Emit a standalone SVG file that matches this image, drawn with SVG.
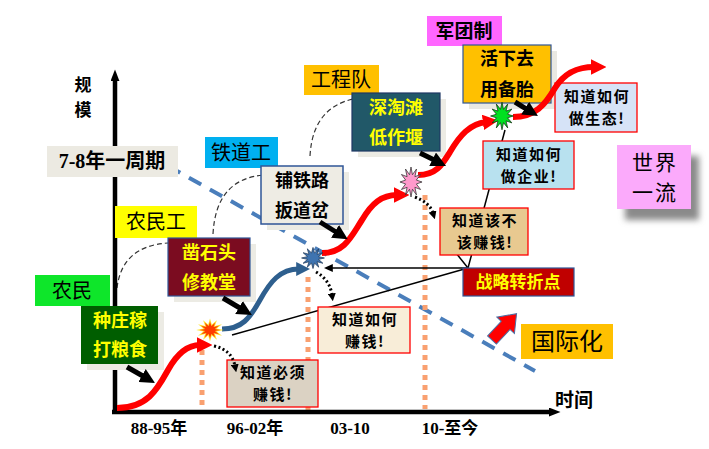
<svg xmlns="http://www.w3.org/2000/svg" width="709" height="449" viewBox="0 0 709 449">
<defs>
<style>
.t{font-family:"Noto Sans CJK SC","Noto Sans",sans-serif;text-anchor:middle}
.b{font-weight:bold}
.n{font-size:15px;letter-spacing:1.5px}
.s{font-family:"Liberation Serif","Noto Sans CJK SC",serif;font-weight:bold;text-anchor:middle}
.y{fill:#ffff00}
.tip{stroke:#ff0000;stroke-width:1.3}
.sh{fill:#ecebe4}
.dot{stroke:#f9a070;stroke-width:5;stroke-dasharray:5 5;fill:none}
.thin{stroke:#000;stroke-width:1.5;fill:none}
.arc{stroke:#333;stroke-width:1.2;stroke-dasharray:5 3;fill:none}
.red{stroke:#ff0000;stroke-width:6;fill:none;marker-end:url(#mr)}
.thick{stroke:#000;stroke-width:5;fill:none;marker-end:url(#mk)}
.dart{stroke:#000;stroke-width:3;stroke-dasharray:2 2.5;fill:none;marker-end:url(#md)}
</style>
<marker id="mr" viewBox="0 0 10 10" refX="2" refY="5" markerWidth="2.6" markerHeight="2.6" orient="auto"><path d="M0,0 L10,5 L0,10z" fill="#ff0000"/></marker>
<marker id="mb" viewBox="0 0 10 10" refX="2" refY="5" markerWidth="2.8" markerHeight="2.8" orient="auto"><path d="M0,0 L10,5 L0,10z" fill="#2e5f8e"/></marker>
<marker id="mk" viewBox="0 0 10 10" refX="2" refY="5" markerWidth="3" markerHeight="3" orient="auto"><path d="M0,0 L10,5 L0,10z" fill="#000"/></marker>
<marker id="ma" viewBox="0 0 10 10" refX="1" refY="5" markerWidth="2.6" markerHeight="2" orient="auto" preserveAspectRatio="none"><path d="M0,0 L10,5 L0,10z" fill="#000"/></marker>
<marker id="md" viewBox="0 0 10 10" refX="2" refY="5" markerUnits="userSpaceOnUse" markerWidth="8" markerHeight="8" orient="auto"><path d="M0,0 L10,5 L0,10z" fill="#000"/></marker>
<marker id="mt" viewBox="0 0 10 10" refX="2" refY="5" markerUnits="userSpaceOnUse" markerWidth="9" markerHeight="8" orient="auto" preserveAspectRatio="none"><path d="M0,0 L10,5 L0,10z" fill="#000"/></marker>
<polygon id="star" points="12,0 5.8,1.55 10.39,6 4.24,4.24 6,10.39 1.55,5.8 0,12 -1.55,5.8 -6,10.39 -4.24,4.24 -10.39,6 -5.8,1.55 -12,0 -5.8,-1.55 -10.39,-6 -4.24,-4.24 -6,-10.39 -1.55,-5.8 0,-12 1.55,-5.8 6,-10.39 4.24,-4.24 10.39,-6 5.8,-1.55"/>
<filter id="blur" x="-30%" y="-30%" width="160%" height="160%"><feGaussianBlur stdDeviation="3"/></filter>
</defs>
<rect width="709" height="449" fill="#fff"/>

<g id="connectors">
  <line x1="168" y1="166" x2="535" y2="371" stroke="#4a7ebb" stroke-width="4" stroke-dasharray="14 10"/>
  <line class="dot" x1="202" y1="350" x2="202" y2="406"/>
  <line class="dot" x1="308" y1="277" x2="308" y2="412"/>
  <line class="dot" x1="425" y1="195" x2="425" y2="409"/>
  <line class="thin" x1="232" y1="335" x2="468" y2="268"/>
  <line class="thin" x1="468" y1="268" x2="331" y2="268" marker-end="url(#mt)"/>
  <line class="thin" x1="468" y1="268" x2="456" y2="253"/>
  <line class="thin" x1="468" y1="268" x2="505" y2="130"/>
  <path class="arc" d="M117,288 Q122,246 168,243"/>
  <path class="arc" d="M213,234 Q216,178 265,175"/>
  <path class="arc" d="M310,156 Q313,100 368,97"/>
</g>

<g id="axes">
  <line x1="115" y1="414" x2="115" y2="80" stroke="#000" stroke-width="4.5" marker-end="url(#ma)"/>
  <line x1="112" y1="412" x2="550" y2="412" stroke="#000" stroke-width="4.5" marker-end="url(#ma)"/>
  <text class="t b" x="83" y="90.5" font-size="17">规<tspan x="83" dy="25">模</tspan></text>
  <text class="t b" x="574" y="407" font-size="19">时间</text>
  <text class="s" x="159" y="434" font-size="17">88-95年</text>
  <text class="s" x="255" y="434" font-size="17">96-02年</text>
  <text class="s" x="350" y="434" font-size="17">03-10</text>
  <text class="s" x="450" y="434" font-size="17">10-至今</text>
</g>

<g id="cycle">
  <rect x="47" y="146" width="131" height="31" fill="#eceae2"/>
  <text class="s" x="112" y="168" font-size="20">7-8年一周期</text>
</g>

<g id="nongmin">
  <rect x="35" y="275" width="75" height="31" fill="#0ee62a"/>
  <text class="t" x="72" y="298" font-size="20">农民</text>
</g>
<g id="zhongzhuangjia">
  <rect class="sh" x="87" y="312" width="77" height="58"/>
  <rect x="81" y="306" width="77" height="58" fill="#005e00"/>
  <text class="t b y" x="120" y="327" font-size="18">种庄稼<tspan x="120" dy="29">打粮食</tspan></text>
</g>

<g id="nongmingong">
  <rect x="115" y="206" width="82" height="32" fill="#ffff00"/>
  <text class="t" x="156" y="229" font-size="20">农民工</text>
</g>
<g id="zaoshitou">
  <rect class="sh" x="174" y="244" width="82" height="58"/>
  <rect x="168" y="238" width="82" height="58" fill="#7b0c20" stroke="#2f5597" stroke-width="1.2"/>
  <text class="t b y" x="209" y="259" font-size="18">凿石头<tspan x="209" dy="30">修教堂</tspan></text>
</g>

<g id="tiedaogong">
  <rect x="205" y="137" width="73" height="31" fill="#00b0f0"/>
  <text class="t" x="241" y="160" font-size="20">铁道工</text>
</g>
<g id="putielu">
  <rect class="sh" x="267" y="172" width="82" height="58"/>
  <rect x="261" y="166" width="82" height="58" fill="#eeece4" stroke="#2f5597" stroke-width="1.5"/>
  <text class="t b" x="302" y="187" font-size="18">铺铁路<tspan x="302" dy="30">扳道岔</tspan></text>
</g>

<g id="gongchengdui">
  <rect x="304" y="65" width="75" height="30" fill="#ffc000"/>
  <text class="t" x="341" y="87" font-size="20">工程队</text>
</g>
<g id="shentaotan">
  <rect class="sh" x="358" y="99" width="88" height="58"/>
  <rect x="352" y="93" width="88" height="58" fill="#215868" stroke="#1f3864" stroke-width="1.2"/>
  <text class="t b y" x="396" y="114" font-size="18">深淘滩<tspan x="396" dy="30">低作堰</tspan></text>
</g>

<g id="juntuanzhi">
  <rect x="427" y="16" width="75" height="30" fill="#ff66ff"/>
  <text class="t b" x="464" y="38" font-size="19">军团制</text>
</g>
<g id="huoxiaqu">
  <rect x="469" y="51" width="88" height="58" fill="#e9e8e2"/>
  <rect x="463" y="45" width="88" height="58" fill="#ffc000" stroke="#2f5597" stroke-width="1.2"/>
  <text class="t b" x="507" y="65" font-size="18">活下去<tspan x="507" dy="31">用备胎</tspan></text>
</g>

<g id="bixuzhuanqian">
  <rect class="tip" x="227" y="360" width="91" height="47" fill="#dbd2c3"/>
  <text class="t b n" x="273" y="378">知道必须<tspan x="273" dy="22">赚钱!</tspan></text>
</g>
<g id="ruhezhuanqian">
  <rect class="tip" x="318" y="307" width="92" height="46" fill="#f8edd8"/>
  <text class="t b n" x="365" y="325">知道如何<tspan x="365" dy="22">赚钱!</tspan></text>
</g>
<g id="gaibugai">
  <rect class="tip" x="440" y="208" width="88" height="47" fill="#e8c990"/>
  <text class="t b n" x="485" y="226">知道该不<tspan x="485" dy="22">该赚钱!</tspan></text>
</g>
<g id="zuoqiye">
  <rect class="tip" x="483" y="141" width="91" height="48" fill="#b8e1ef"/>
  <text class="t b n" x="529" y="160">知道如何<tspan x="529" dy="22">做企业!</tspan></text>
</g>
<g id="zuoshengtai">
  <rect class="tip" x="555" y="83" width="82" height="49" fill="#d6e3f7"/>
  <text class="t b n" x="597" y="102">知道如何<tspan x="597" dy="22">做生态!</tspan></text>
</g>
<g id="zhuanzhedian">
  <rect x="463" y="268" width="111" height="28" fill="#c00000" stroke="#2f5597" stroke-width="1.2"/>
  <text class="t b y" x="518" y="288" font-size="17">战略转折点</text>
</g>
<g id="shijieyiliu">
  <rect x="625" y="156" width="74" height="64" fill="#8a8a8a" filter="url(#blur)"/>
  <rect x="617" y="145" width="74" height="64" fill="#fbaafb"/>
  <text class="t" x="655" y="169.5" font-size="21" letter-spacing="2">世界<tspan x="655" dy="30.5">一流</tspan></text>
</g>
<g id="guojihua">
  <rect x="521" y="324" width="92" height="35" fill="#ffc000"/>
  <text class="t" x="567" y="350" font-size="24">国际化</text>
</g>

<g id="curves">
  <path class="red" d="M117,408 C148,408 158,388 168,370 C178,352 188,345 200,345"/>
  <path d="M222,329 C242,329 250,318 260,300 C270,282 280,269 299,269" stroke="#2e5f8e" stroke-width="5" fill="none" marker-end="url(#mb)"/>
  <path class="red" d="M322,253 C345,253 352,235 362,220 C372,203 382,195 397,195"/>
  <path class="red" d="M418,175 C436,175 442,165 450,152 C460,135 470,124 486,122"/>
  <path class="red" d="M513,117 C535,117 545,105 555,88 C565,72 578,67 594,67"/>
</g>

<g id="stars">
  <use href="#star" transform="translate(210,330) scale(1.15,0.95)" fill="#ffe030"/>
  <use href="#star" transform="translate(210,330) scale(0.85,0.7)" fill="#ff3c00"/>
  <use href="#star" transform="translate(313,258) scale(0.95,0.88)" fill="#3f74b0" stroke="#1b3556" stroke-width="0.8"/>
  <use href="#star" transform="translate(411,182) scale(0.92,1.25)" fill="#ff99cc" stroke="#333" stroke-width="0.7"/>
  <use href="#star" transform="translate(502,116) scale(0.95,1.15)" fill="#00e020" stroke="#103010" stroke-width="0.7"/>
</g>

<g id="arrows">
  <path class="dart" d="M214,346 Q232,350 235,366"/>
  <path class="dart" d="M316,272 Q330,280 332,295"/>
  <path class="dart" d="M415,197 Q430,203 433,213"/>
  <line class="thick" x1="127" y1="367" x2="144.6" y2="377"/>
  <line class="thick" x1="223" y1="298" x2="241.6" y2="309"/>
  <line class="thick" x1="320" y1="222" x2="337.6" y2="233"/>
  <line class="thick" x1="420" y1="153" x2="435.3" y2="160.6"/>
  <line class="thick" x1="515" y1="102" x2="527.7" y2="109.8"/>
  <polygon transform="translate(492,340) rotate(-47)" points="0,-6 20,-6 20,-12 36,0 20,12 20,6 0,6" fill="#ff0000" stroke="#4a6fa5" stroke-width="1"/>
</g>
</svg>
